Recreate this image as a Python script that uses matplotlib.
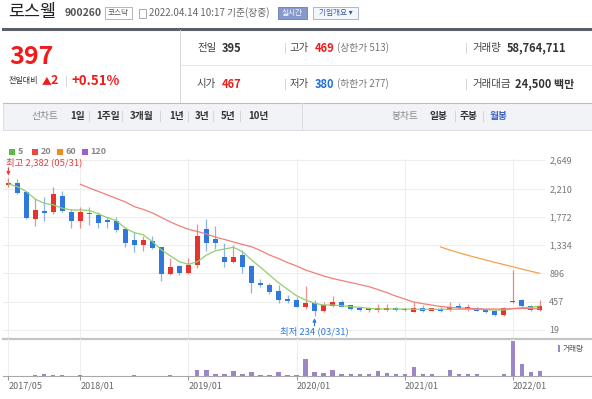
import numpy as np
import pandas as pd
import matplotlib.pyplot as plt
from matplotlib.patches import Rectangle

plt.rcParams['font.family'] = ['Noto Sans CJK KR', 'DejaVu Sans']

# 월봉 데이터 (2017/05 ~ 2022/04)
months = list(pd.date_range('2017-05-01', '2022-04-01', freq='MS').strftime('%Y/%m'))
open_ = [2260, 2293, 2153, 1740, 1863, 1853, 2101, 1853, 1709, 1832,
         1801, 1724, 1713, 1580, 1414, 1332, 1403, 1301, 882, 1011,
         907, 1027, 1580, 1425, 1146, 1078, 1181, 1011, 743, 721,
         628, 495, 484, 370, 433, 318, 396, 448, 406, 355,
         329, 329, 329, 355, 324, 298, 355, 318, 350, 329,
         391, 350, 360, 329, 318, 252, 449, 484, 396, 335]
high = [2382, 2355, 2163, 2060, 2085, 2231, 2178, 1890, 1930, 1930,
        1853, 1775, 1775, 1611, 1543, 1476, 1476, 1310, 1130, 1027,
        1130, 1662, 1739, 1631, 1363, 1337, 1259, 1027, 805, 743,
        717, 561, 535, 701, 484, 458, 551, 484, 412, 380,
        380, 422, 422, 370, 365, 458, 406, 365, 370, 458,
        433, 422, 370, 344, 329, 370, 949, 500, 406, 480]
low = [2230, 2122, 1740, 1631, 1713, 1817, 1853, 1595, 1595, 1647,
       1595, 1595, 1543, 1310, 1233, 1248, 1270, 783, 871, 871,
       887, 975, 1243, 1270, 1000, 1053, 907, 597, 681, 577,
       442, 442, 370, 340, 234, 303, 380, 370, 335, 313,
       303, 293, 313, 308, 308, 293, 303, 313, 303, 313,
       350, 313, 308, 278, 241, 241, 442, 370, 318, 318]
close = [2290, 2138, 1750, 1879, 1832, 2127, 1863, 1713, 1843, 1812,
         1673, 1697, 1569, 1372, 1332, 1414, 1285, 887, 1000, 907,
         1027, 1481, 1372, 1372, 1078, 1155, 1000, 752, 712, 613,
         484, 474, 380, 433, 318, 406, 458, 380, 344, 329,
         360, 360, 355, 329, 340, 355, 318, 355, 318, 380,
         360, 360, 313, 303, 252, 355, 468, 391, 329, 397]
volume = [0.5, 0.5, 0.5, 3, 5, 3, 3, 0.5, 2, 0.5,
          0.5, 0.5, 0.5, 0.5, 2, 0.5, 0.5, 0.5, 2, 0.5,
          0.5, 17, 15, 5, 5, 12, 5, 10, 3, 3,
          10, 3, 3, 44, 10, 7, 15, 4, 4, 4,
          4, 12, 8, 4, 4, 24, 6, 4, 1, 15,
          4, 4, 4, 1, 1, 6, 92, 31, 10, 13]
ma5 = [2282, 2240, 2163, 2045, 1983, 1957, 1906, 1879, 1879, 1874,
       1817, 1760, 1713, 1595, 1527, 1492, 1388, 1259, 1166, 1078,
       1037, 1078, 1181, 1248, 1274, 1301, 1232, 1104, 991, 872,
       752, 650, 551, 484, 433, 406, 406, 396, 380, 371,
       355, 345, 345, 345, 345, 340, 340, 340, 340, 340,
       340, 340, 340, 335, 329, 329, 349, 365, 371, 391]
ma20 = [None] * 8 + [2277, 2220, 2166, 2112, 2057, 2003, 1930, 1887, 1833, 1763,
                     1693, 1631, 1580, 1546, 1507, 1460, 1422, 1383, 1344, 1310,
                     1251, 1181, 1127, 1065, 1011, 949, 903, 856, 817, 786,
                     755, 724, 693, 647, 600, 546, 500, 453, 427, 406,
                     383, 371, 360, 355, 349, 344, 344, 344, 349, 352, 352, 352]
ma60 = [None] * 48 + [1306, 1259, 1217, 1178, 1140, 1104, 1068, 1034, 1000, 965, 930, 898]

price_ticks = [19, 457, 896, 1334, 1772, 2210, 2649]
date_ticks = ['2017/05', '2018/01', '2019/01', '2020/01', '2021/01', '2022/01']
ma_names = ['5', '20', '60', '120']
ma_colors = ['#5cbb44', '#e9473f', '#f28a22', '#9b5fd2']

RED = '#e8322d'
BLUE = '#2f78dc'
W, H = 592, 399

def rect(x0, y0, x1, y1):
    return [x0 / W, 1 - y1 / H, (x1 - x0) / W, (y1 - y0) / H]

fig = plt.figure(figsize=(W / 100, H / 100), dpi=100)

# 배경 (픽셀 좌표)
bg = fig.add_axes([0, 0, 1, 1])
bg.set_xlim(0, W)
bg.set_ylim(H, 0)
bg.axis('off')

def txt(x, y, s, size=7, color='#333', bold=False, ha='left'):
    bg.text(x, y, s, fontsize=size, color=color, ha=ha, va='center',
            fontweight='bold' if bold else 'normal')

def vbar(x, y0, y1, color='#d6d6d6'):
    bg.plot([x, x], [y0, y1], color=color, lw=0.7)

# 상단 헤더
txt(8, 12, '로스웰', 12.5, '#222')
txt(65, 13, '900260', 7.5, '#555', bold=True)
bg.add_patch(Rectangle((105, 7), 27, 12, fill=False, ec='#b5b5b5', lw=0.7))
txt(118.5, 13, '코스닥', 5.5, '#555', ha='center')
bg.add_patch(Rectangle((139, 8.5), 7, 9, fill=False, ec='#aaa', lw=0.7))
txt(149, 13, '2022.04.14 10:17 기준(장중)', 7, '#666')
bg.add_patch(Rectangle((278, 7), 29, 12, fc='#8798cc', ec='#7285be', lw=0.7))
txt(292.5, 13, '실시간', 5.5, 'white', ha='center')
bg.add_patch(Rectangle((313, 7), 45, 12, fc='#f3f6fb', ec='#a8b6d6', lw=0.7))
txt(335.5, 13, '기업개요 ▾', 5.5, '#3b5ba8', ha='center')
bg.plot([3, W], [28.5, 28.5], color='#5b6068', lw=2.2)

# 현재가
txt(9, 57, '397', 18, '#f01c1c', bold=True)
txt(9, 81, '전일대비', 5.8, '#333')
txt(42, 81, '▲', 7, '#f01c1c')
txt(51, 81, '2', 9, '#f01c1c', bold=True)
vbar(66, 76, 86)
txt(72, 81, '+0.51%', 9.5, '#f01c1c', bold=True)
vbar(180, 30, 103)
bg.plot([180, W], [65, 65], color='#e6e6e6', lw=0.7)

# 시세 표
txt(197, 48, '전일', 7.5, '#444')
txt(222, 48, '395', 8, '#333', bold=True)
vbar(285, 43, 53)
txt(290, 48, '고가', 7.5, '#444')
txt(315, 48, '469', 8, '#f01c1c', bold=True)
txt(337, 48, '(상한가 513)', 7, '#777')
vbar(466, 43, 53)
txt(472, 48, '거래량', 7.5, '#444')
txt(507, 48, '58,764,711', 8, '#333', bold=True)
txt(197, 84, '시가', 7.5, '#444')
txt(222, 84, '467', 8, '#f01c1c', bold=True)
vbar(285, 79, 89)
txt(290, 84, '저가', 7.5, '#444')
txt(315, 84, '380', 8, '#1e6fd9', bold=True)
txt(337, 84, '(하한가 277)', 7, '#777')
vbar(466, 79, 89)
txt(472, 84, '거래대금', 7.5, '#444')
txt(515, 84, '24,500 백만', 8, '#333', bold=True)

# 차트 메뉴 바
bg.plot([3, W], [102.5, 102.5], color='#bdbdbd', lw=0.8)
bg.add_patch(Rectangle((3, 103), W - 3, 27, fc='#f2f3f7', ec='#dcdde3', lw=0.7))
vbar(302, 103, 130, '#dcdde3')
txt(32, 116, '선차트', 7, '#888')
for x, s in [(70, '1일'), (96, '1주일'), (130, '3개월'), (169, '1년'),
             (195, '3년'), (221, '5년'), (248, '10년')]:
    txt(x, 116, s, 7, '#333', bold=True)
for x in [89, 121.5, 160, 188, 213, 240]:
    vbar(x, 111, 121)
txt(391, 116, '봉차트', 7, '#888')
txt(430, 116, '일봉', 7, '#333', bold=True)
vbar(455, 111, 121)
txt(460, 116, '주봉', 7, '#333', bold=True)
vbar(483, 111, 121)
txt(490, 116, '월봉', 7, '#3a63c4', bold=True)

# 이동평균 범례
for x, c, name in zip([9, 32, 57, 82], ma_colors, ma_names):
    bg.add_patch(Rectangle((x, 149), 6, 6, color=c, lw=0))
    txt(x + 8.5, 152, name, 6.5, '#888', bold=True)

# 가격 차트
xi = np.arange(len(months))
o = np.array(open_, float)
c = np.array(close, float)
hi = np.array(high, float)
lo = np.array(low, float)
up = c >= o
cols = np.where(up, RED, BLUE)
year_pos = [months.index(d) for d in date_ticks]

ax = fig.add_axes(rect(3, 159, 545, 338))
ax.set_facecolor('none')
ax.set_xlim(-0.6, 59.6)
ax.set_ylim(-105, 2669)
for s in ax.spines.values():
    s.set_visible(False)
ax.set_xticks([])
ax.yaxis.tick_right()
ax.set_yticks(price_ticks)
ax.set_yticklabels([f'{v:,}' for v in price_ticks])
ax.tick_params(axis='y', length=0, pad=3, labelsize=6.5, labelcolor='#777')
ax.grid(axis='y', color='#eeeeee', lw=0.8)
for p in year_pos:
    ax.axvline(p, color='#eeeeee', lw=0.8, zorder=0)

ax.vlines(xi, lo, hi, colors=cols, lw=0.9, alpha=0.55, zorder=2)
body_lo = np.minimum(o, c)
body_h = np.maximum(np.abs(c - o), 22)
ax.bar(xi, body_h, 0.58, bottom=body_lo, color=cols, lw=0, zorder=3)

ma_lines = [np.array(m, dtype=float) for m in (ma5, ma20, ma60)]
for m, col in zip(ma_lines, ['#8fd06c', '#f27e7b', '#f6a04d']):
    ax.plot(xi, m, color=col, lw=0.9, zorder=4)

# 최고 / 최저 표시
ih = int(np.argmax(hi))
il = int(np.argmin(lo))
ax.annotate(f'최고 {hi[ih]:,.0f} ({months[ih][5:]}/31)', xy=(ih, hi[ih]),
            xytext=(-1.7, 11), textcoords='offset points', ha='left', va='center',
            fontsize=6.8, color='#ee3b3b')
ax.annotate('', xy=(ih, hi[ih]), xytext=(0, 7), textcoords='offset points',
            arrowprops=dict(arrowstyle='-|>', color='#ee3b3b', lw=0.8,
                            mutation_scale=5, shrinkA=0, shrinkB=1.5))
ax.annotate(f'최저 {lo[il]:,.0f} ({months[il][5:]}/31)', xy=(il, lo[il]),
            xytext=(0, -11), textcoords='offset points', ha='center', va='center',
            fontsize=6.8, color=BLUE)
ax.annotate('', xy=(il, lo[il]), xytext=(0, -7), textcoords='offset points',
            arrowprops=dict(arrowstyle='-|>', color=BLUE, lw=0.8,
                            mutation_scale=5, shrinkA=0, shrinkB=1.5))

bg.plot([3, W], [338.5, 338.5], color='#c4c4c4', lw=1.6)

# 거래량
axv = fig.add_axes(rect(3, 339, 545, 376))
axv.set_facecolor('none')
axv.set_xlim(-0.6, 59.6)
axv.set_ylim(0, 97)
for s in axv.spines.values():
    s.set_visible(False)
for p in year_pos:
    axv.axvline(p, color='#eeeeee', lw=0.8, zorder=0)
axv.bar(xi, volume, 0.45, color='#9c86c9', lw=0)
axv.set_yticks([])
axv.set_xticks(year_pos)
axv.set_xticklabels(date_ticks)
for lbl in axv.get_xticklabels():
    lbl.set_ha('left')
axv.tick_params(axis='x', length=3, color='#999', labelsize=6.5,
                labelcolor='#666', pad=1)
bg.plot([3, W], [376, 376], color='#a8a8a8', lw=0.8)
bg.add_patch(Rectangle((558, 345), 2, 7, color='#9c86c9', lw=0))
txt(563, 349, '거래량', 5.5, '#555')

fig.savefig('out.png', dpi=100)
